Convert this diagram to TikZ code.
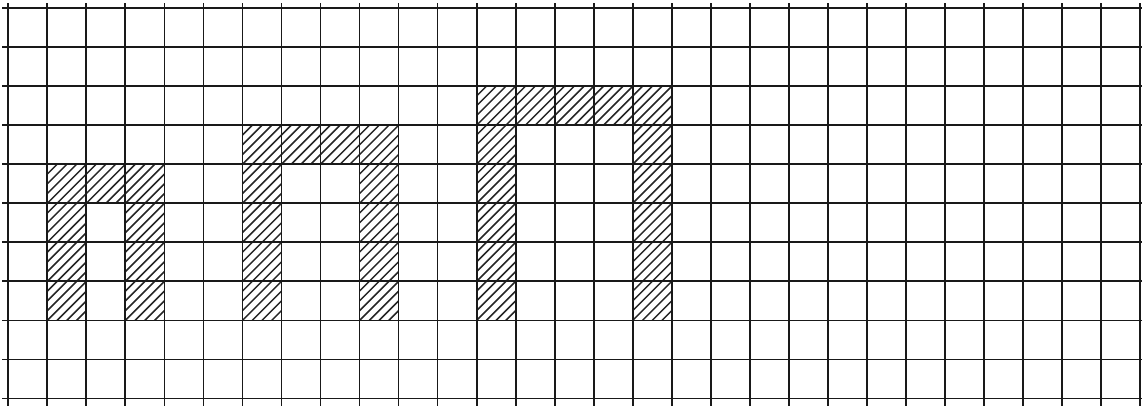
\documentclass[tikz,border=0pt]{standalone}

\begin{document}
\begin{tikzpicture}[
  gridline/.style={line width=1.3pt, black!90},
  hatchline/.style={line width=1.1pt, black!85}
]
  \useasboundingbox (-0.213, -0.19) rectangle (29.05, 10.21);

  % Hatched arches
  \foreach \xa/\xb/\ytop in {1/4/6, 6/10/7, 12/17/8} {
    \begin{scope}
      \clip (\xa, 2) -- (\xa, \ytop) -- (\xb, \ytop) -- (\xb, 2)
        -- (\xb-1, 2) -- (\xb-1, \ytop-1) -- (\xa+1, \ytop-1)
        -- (\xa+1, 2) -- cycle;
      \foreach \k in {-30,...,80}
        \draw[hatchline] (\k*0.25, 0) -- ++(10, 10);
    \end{scope}
  }

  % Grid
  \foreach \y in {0,...,10}
    \draw[gridline] (-0.16, \y) -- (29.05, \y);
  \foreach \x in {0,...,29}
    \draw[gridline] (\x, -0.19) -- (\x, 10.13);
\end{tikzpicture}
\end{document}
